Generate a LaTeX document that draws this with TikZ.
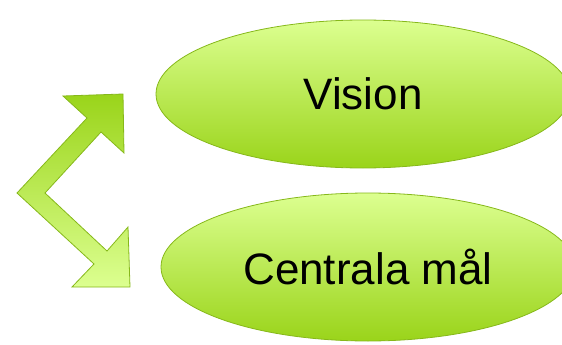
\documentclass[tikz,border=0pt]{standalone}
\usepackage{fontspec}
\setmainfont{Liberation Sans}
\usetikzlibrary{shapes.geometric}
\definecolor{lightgreen}{HTML}{DCFF90}
\definecolor{darkgreen}{HTML}{9AD41A}
\definecolor{rimgreen}{HTML}{86B81A}
\begin{document}
\begin{tikzpicture}[x=1pt,y=-1pt,
    goal/.style={ellipse, draw=rimgreen, line width=0.8pt,
      top color=lightgreen, bottom color=darkgreen,
      minimum width=414pt, minimum height=148pt, inner sep=0pt,
      font=\fontsize{44}{50}\selectfont},
    bent/.style={draw=rimgreen, line width=0.8pt, line join=miter,
      top color=darkgreen, bottom color=lightgreen}]
  \useasboundingbox (0,0) rectangle (562,345);
  \clip (0,0) rectangle (562,345);
  \node[goal] (vision) at (363,94) {Vision};
  \node[goal] (mal) at (368,267) {Centrala mål};
  \draw[bent] (63,96) -- (123,94) -- (124,153) -- (101,132) -- (45,193)
    -- (107,251) -- (128,227) -- (130,287) -- (72,287) -- (94,264)
    -- (17,193) -- (87,118) -- cycle;
\end{tikzpicture}
\end{document}
